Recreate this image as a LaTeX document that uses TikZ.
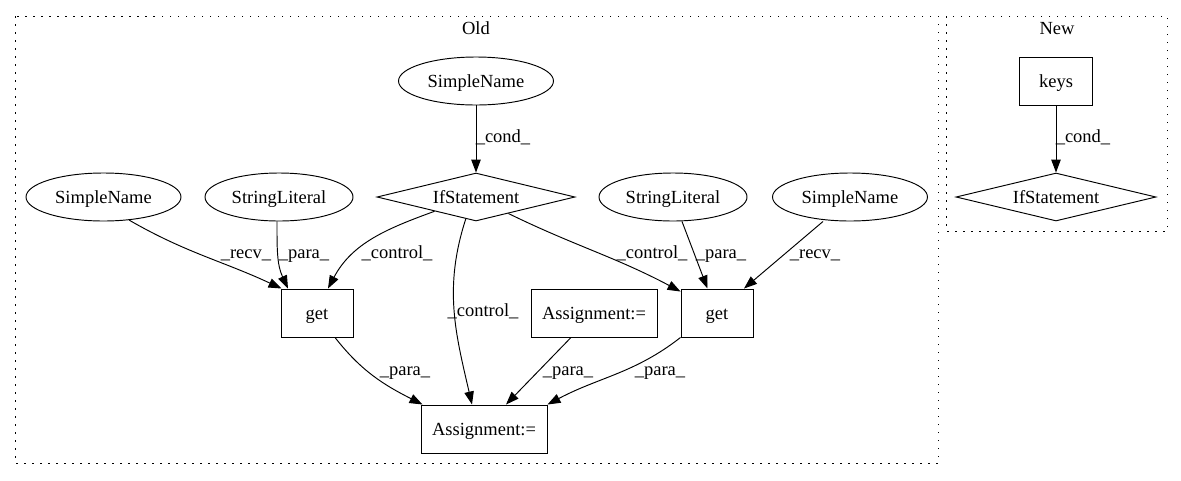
\documentclass[tikz,border=0pt]{standalone}
\usepackage{fontspec}
\setmainfont{Liberation Serif}
\usetikzlibrary{arrows.meta,shapes.geometric,calc}
\begin{document}
\begin{tikzpicture}[x=1pt,y=-1pt,
  font=\fontsize{18.5}{22}\selectfont,
  base/.style={draw, line width=0.95pt, inner sep=0pt, text height=12.5pt, text depth=0pt},
  oval/.style={base, ellipse, minimum width=155pt, minimum height=48pt},
  oval2/.style={base, ellipse, minimum width=148pt, minimum height=48pt},
  cond/.style={base, diamond, aspect=4.1, minimum width=198pt, minimum height=48pt},
  box/.style={base, rectangle, minimum height=48pt},
  edge/.style={line width=0.95pt, -{Triangle[length=13pt,width=9.5pt]}},
  lbl/.style={inner sep=0pt, text height=10pt, text depth=3pt},
  cluster/.style={line width=1pt, dash pattern=on 1.5pt off 6.5pt},
]
\useasboundingbox (0,0) rectangle (1181,480);
\fill[white] (0,0) rectangle (1181,480);

% clusters
\draw[cluster] (15,16) rectangle (938,463);
\node[lbl] (oldtitle) at (476,31) {Old};
\draw[cluster] (946,16) rectangle (1167,231);
\node[lbl] (newtitle) at (1057,31) {New};

% old graph
\node[oval]  (sn1) at (476,81)  {SimpleName};
\node[cond]  (ifo) at (476,197) {IfStatement};
\node[oval]  (sn2) at (103.5,197) {SimpleName};
\node[oval2] (sl1) at (279,197) {StringLiteral};
\node[oval2] (sl2) at (673,197) {StringLiteral};
\node[oval]  (sn3) at (850,197) {SimpleName};
\node[box, minimum width=72pt]  (lget) at (317,313) {get};
\node[box, minimum width=126pt] (asm)  at (594,313) {Assignment:=};
\node[box, minimum width=72pt]  (rget) at (717,313) {get};
\node[box, minimum width=126pt] (asb)  at (484,429) {Assignment:=};

% new graph
\node[box, minimum width=73pt] (keys) at (1056,81) {keys};
\node[cond, minimum width=200pt] (ifn) at (1056,197) {IfStatement};

% edges
\draw[edge] (sn1) -- (ifo);
\node[lbl] (c1) at (503,139) {\_cond\_};

\draw[edge] (ifo.199) to[out=200,in=62] ($(lget.north)+(11,0)$);
\node[lbl] (c2) at (397,255) {\_control\_};

\draw[edge] (ifo.245) to[out=252,in=103] ($(asb.north)+(-12,0)$);
\node[lbl] (c3) at (483,313) {\_control\_};

\draw[edge] (ifo.333) to[out=-26,in=152] ($(rget.north west)+(0,3)$);
\node[lbl] (c4) at (652,255) {\_control\_};

\draw[edge] (sn2.318) to[out=-30,in=155] ($(lget.north west)+(1,0)$);
\node[lbl] (r1) at (246,255) {\_recv\_};

\draw[edge] ($(sl1.south)+(-2,0)$) to[out=-90,in=115] ($(lget.north)+(-29,0)$);
\node[lbl] (p1) at (304,255) {\_para\_};

\draw[edge] ($(sl2.south)+(9,0)$) -- ($(rget.north)+(-9.5,0)$);
\node[lbl] (p2) at (721,255) {\_para\_};

\draw[edge] ($(sn3.south)+(-27,0)$) -- ($(rget.north)+(27,0)$);
\node[lbl] (r2) at (815,255) {\_recv\_};

\draw[edge] ($(lget.south)+(18,0)$) to[out=-52,in=153] ($(asb.north west)+(2,0)$);
\node[lbl] (p3) at (405,372) {\_para\_};

\draw[edge] ($(asm.south)+(-23,0)$) -- ($(asb.north)+(22,0)$);
\node[lbl] (p4) at (568,372) {\_para\_};

\draw[edge] (rget.south west) to[out=218,in=28] (asb.north east);
\node[lbl] (p5) at (660,372) {\_para\_};

\draw[edge] (keys) -- (ifn);
\node[lbl] (c5) at (1083,139) {\_cond\_};
\end{tikzpicture}
\end{document}
